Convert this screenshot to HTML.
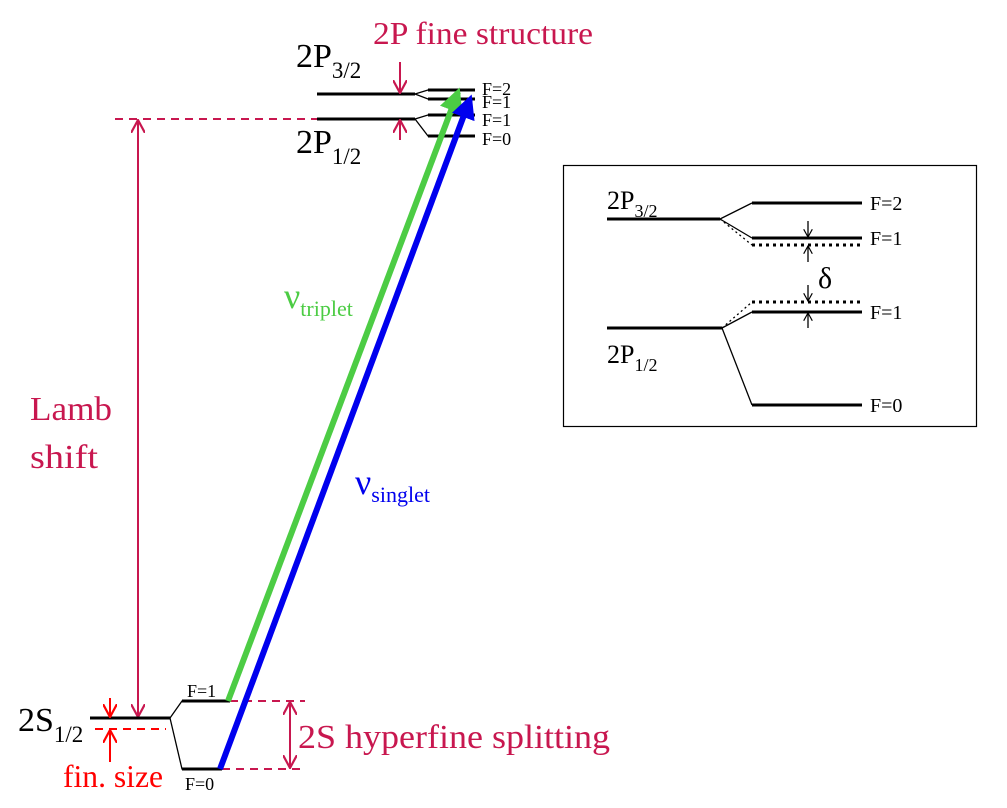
<!DOCTYPE html>
<html><head><meta charset="utf-8"><style>
html,body{margin:0;padding:0;background:#fff}
svg{display:block;font-family:"Liberation Serif",serif}
</style></head><body>
<svg width="1007" height="808" viewBox="0 0 1007 808">
<defs>
<marker id="ac" viewBox="0 0 14 14" refX="13" refY="7" markerWidth="14" markerHeight="14" markerUnits="userSpaceOnUse" orient="auto-start-reverse"><path d="M0,0 L13,7 L0,14" fill="none" stroke="#c8174f" stroke-width="2.2"/></marker>
<marker id="ar" viewBox="0 0 14 14" refX="13" refY="7" markerWidth="14" markerHeight="14" markerUnits="userSpaceOnUse" orient="auto-start-reverse"><path d="M0,0 L13,7 L0,14" fill="none" stroke="#ff0000" stroke-width="2.2"/></marker>
<marker id="ag" viewBox="0 0 10 10" refX="8" refY="5" markerWidth="4" markerHeight="4" orient="auto"><path d="M0,0 L10,5 L0,10 Z" fill="#4ccc44"/></marker>
<marker id="ab" viewBox="0 0 10 10" refX="8" refY="5" markerWidth="4" markerHeight="4" orient="auto"><path d="M0,0 L10,5 L0,10 Z" fill="#0000ee"/></marker>
<marker id="ak" viewBox="0 0 10 10" refX="9" refY="5" markerWidth="9" markerHeight="9" markerUnits="userSpaceOnUse" orient="auto"><path d="M0,0 L9,5 L0,10" fill="none" stroke="#000" stroke-width="1.3"/></marker>
</defs>

<text x="373" y="44" font-size="32" fill="#c8174f" textLength="220" lengthAdjust="spacingAndGlyphs">2P fine structure</text>

<g stroke="#000" fill="none">
<line x1="317" y1="94" x2="415" y2="94" stroke-width="3"/>
<line x1="317" y1="119" x2="415" y2="119" stroke-width="3"/>
<polyline points="415,94 428,90 475,90" stroke-width="1.3"/>
<polyline points="415,94 428,99 475,99" stroke-width="1.3"/>
<polyline points="415,119 428,115 475,115" stroke-width="1.3"/>
<polyline points="415,119 428,136 475,136" stroke-width="1.3"/>
<line x1="428" y1="90" x2="475" y2="90" stroke-width="3"/>
<line x1="428" y1="99" x2="475" y2="99" stroke-width="3"/>
<line x1="428" y1="115" x2="475" y2="115" stroke-width="3"/>
<line x1="428" y1="136" x2="475" y2="136" stroke-width="3"/>
</g>
<text x="296" y="67" font-size="34">2P<tspan font-size="23" dy="11">3/2</tspan></text>
<text x="296" y="153" font-size="34">2P<tspan font-size="23" dy="11">1/2</tspan></text>
<g font-size="18">
<text x="482" y="95">F=2</text><text x="482" y="108">F=1</text><text x="482" y="126">F=1</text><text x="482" y="145">F=0</text>
</g>
<line x1="400" y1="62" x2="400" y2="93" stroke="#c8174f" stroke-width="2" marker-end="url(#ac)"/>
<line x1="400" y1="140" x2="400" y2="120" stroke="#c8174f" stroke-width="2" marker-end="url(#ac)"/>
<line x1="115" y1="119" x2="317" y2="119" stroke="#c8174f" stroke-width="2" stroke-dasharray="8,6"/>

<line x1="138" y1="120" x2="138" y2="717" stroke="#c8174f" stroke-width="2" marker-start="url(#ac)" marker-end="url(#ac)"/>
<text x="30" y="420" font-size="34" fill="#c8174f" textLength="82" lengthAdjust="spacingAndGlyphs">Lamb</text>
<text x="30" y="468" font-size="34" fill="#c8174f" textLength="68" lengthAdjust="spacingAndGlyphs">shift</text>

<g stroke="#000" fill="none">
<line x1="90" y1="718" x2="170" y2="718" stroke-width="3"/>
<polyline points="170,718 182,701 230,701" stroke-width="1.3"/>
<polyline points="170,718 182,769 222,769" stroke-width="1.3"/>
<line x1="182" y1="701" x2="230" y2="701" stroke-width="3"/>
<line x1="182" y1="769" x2="222" y2="769" stroke-width="3"/>
</g>
<line x1="95" y1="729" x2="166" y2="729" stroke="#ff0000" stroke-width="2" stroke-dasharray="8,6"/>
<line x1="110" y1="698" x2="110" y2="717" stroke="#ff0000" stroke-width="2" marker-end="url(#ar)"/>
<line x1="110" y1="762" x2="110" y2="730" stroke="#ff0000" stroke-width="2" marker-end="url(#ar)"/>
<text x="63" y="787" font-size="32" fill="#ff0000" textLength="100" lengthAdjust="spacingAndGlyphs">fin. size</text>
<text x="18" y="731" font-size="34">2S<tspan font-size="23" dy="11">1/2</tspan></text>
<text x="187" y="697" font-size="18">F=1</text>
<text x="185" y="790" font-size="18">F=0</text>
<line x1="230" y1="701" x2="305" y2="701" stroke="#c8174f" stroke-width="2" stroke-dasharray="8,6"/>
<line x1="222" y1="769" x2="305" y2="769" stroke="#c8174f" stroke-width="2" stroke-dasharray="8,6"/>
<line x1="290" y1="702" x2="290" y2="768" stroke="#c8174f" stroke-width="2" marker-start="url(#ac)" marker-end="url(#ac)"/>
<text x="298" y="748" font-size="34" fill="#c8174f" textLength="312" lengthAdjust="spacingAndGlyphs">2S hyperfine splitting</text>

<line x1="228" y1="701" x2="458" y2="92" stroke="#4ccc44" stroke-width="6" marker-end="url(#ag)"/>
<line x1="220" y1="769" x2="470" y2="99" stroke="#0000ee" stroke-width="6" marker-end="url(#ab)"/>
<text x="284" y="308" font-size="36" fill="#4ccc44">ν<tspan font-size="22" dy="8">triplet</tspan></text>
<text x="355" y="494" font-size="36" fill="#0000ee">ν<tspan font-size="22" dy="8">singlet</tspan></text>

<rect x="563.5" y="165.5" width="413" height="261" fill="none" stroke="#000" stroke-width="1.2"/>
<g stroke="#000" fill="none">
<line x1="607" y1="219" x2="720" y2="219" stroke-width="3"/>
<polyline points="720,219 752,203" stroke-width="1.3"/>
<polyline points="720,219 752,238" stroke-width="1.3"/>
<polyline points="720,219 752,245" stroke-width="1.3" stroke-dasharray="2,3"/>
<line x1="752" y1="203" x2="862" y2="203" stroke-width="3"/>
<line x1="752" y1="238" x2="862" y2="238" stroke-width="3"/>
<line x1="752" y1="245" x2="862" y2="245" stroke-width="3" stroke-dasharray="3,4"/>
<line x1="607" y1="328" x2="722" y2="328" stroke-width="3"/>
<polyline points="722,328 752,312" stroke-width="1.3"/>
<polyline points="722,328 752,302" stroke-width="1.3" stroke-dasharray="2,3"/>
<polyline points="722,328 752,405" stroke-width="1.3"/>
<line x1="752" y1="302" x2="862" y2="302" stroke-width="3" stroke-dasharray="3,4"/>
<line x1="752" y1="312" x2="862" y2="312" stroke-width="3"/>
<line x1="752" y1="405" x2="862" y2="405" stroke-width="3"/>
</g>
<g stroke="#000" stroke-width="1.3">
<line x1="808" y1="221" x2="808" y2="237" marker-end="url(#ak)"/>
<line x1="808" y1="262" x2="808" y2="246" marker-end="url(#ak)"/>
<line x1="808" y1="285" x2="808" y2="301" marker-end="url(#ak)"/>
<line x1="808" y1="328" x2="808" y2="313" marker-end="url(#ak)"/>
</g>
<text x="818" y="288" font-size="30">δ</text>
<text x="607" y="209" font-size="26">2P<tspan font-size="18" dy="8">3/2</tspan></text>
<text x="607" y="363" font-size="26">2P<tspan font-size="18" dy="8">1/2</tspan></text>
<g font-size="20">
<text x="870" y="210">F=2</text><text x="870" y="245">F=1</text><text x="870" y="319">F=1</text><text x="870" y="412">F=0</text>
</g>
</svg>
</body></html>
